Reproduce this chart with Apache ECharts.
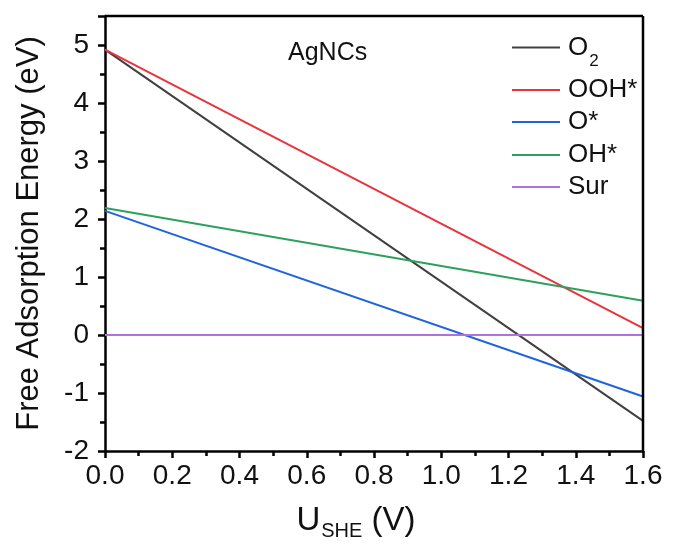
<!DOCTYPE html>
<html><head><meta charset="utf-8">
<script src="https://cdn.jsdelivr.net/npm/echarts@6/dist/echarts.min.js"></script>
<style>html,body{margin:0;padding:0;background:#fff}#c{width:673px;height:545px}</style>
</head><body><div id="c"></div>
<script>
const xValues = [0, 1.6];
const seriesNames = ['O2', 'OOH*', 'O*', 'OH*', 'Sur'];
const o2 = [4.92, -1.48];
const ooh = [4.92, 0.12];
const oStar = [2.14, -1.06];
const ohStar = [2.19, 0.59];
const sur = [0, 0];
const colors = ['#404040', '#e8343c', '#1e64dc', '#2ea05e', '#b070e0'];
const allValues = [o2, ooh, oStar, ohStar, sur];
const legendTops = [25, 77, 109, 142, 174];

const font = 'Liberation Sans, Arial, sans-serif';
const chart = echarts.init(document.getElementById('c'));
chart.setOption({
  animation: false,
  grid: {left: 105, right: 30, top: 16, bottom: 94, show: false, containLabel: false, outerBoundsMode: 'none'},
  title: {text: 'AgNCs', left: 288, top: 41, padding: 0, textStyle: {fontFamily: font, fontSize: 25, fontWeight: 'normal', color: '#111'}},
  legend: seriesNames.map((n, i) => ({
    orient: 'vertical', left: 512, top: legendTops[i], padding: 0, itemWidth: 48, itemHeight: 12,
    icon: 'path://M0,5 L48,5 L48,7 L0,7 Z',
    data: [n],
    formatter: function (nm) { return nm === 'O2' ? '{a|O}{s|2}' : '{a|' + nm + '}'; },
    textStyle: {fontFamily: font, fontSize: 26, color: '#111', padding: [0,0,0,3],
      rich: {a: {fontFamily: font, fontSize: 26, lineHeight: 28, color: '#111'},
             s: {fontFamily: font, fontSize: 17, lineHeight: 28, color: '#111', padding: [28,0,0,1]}}}
  })),
  xAxis: {
    type: 'value', min: 0, max: 1.6, interval: 0.2,
    name: '{a|U}{s|SHE}{a| (V)}', nameLocation: 'middle', nameGap: 50,
    nameTextStyle: {padding: [0, 36, 0, 0], rich: {a: {fontFamily: font, fontSize: 33, color: '#111'}, s: {fontFamily: font, fontSize: 20, color: '#111', padding: [20,0,0,1]}}},
    axisLine: {show: true, onZero: false, lineStyle: {color: '#000', width: 2.5}},
    axisTick: {show: true, length: 7, lineStyle: {color: '#000', width: 2.5}},
    minorTick: {show: true, splitNumber: 2, length: 5, lineStyle: {color: '#000', width: 2.5}},
    axisLabel: {fontFamily: font, fontSize: 28, color: '#111', margin: 11, formatter: v => v.toFixed(1)},
    splitLine: {show: false}
  },
  yAxis: {
    type: 'value', min: -2, max: 5.5, interval: 1,
    name: 'Free Adsorption Energy (eV)', nameLocation: 'middle', nameGap: 60,
    nameTextStyle: {fontFamily: font, fontSize: 31, color: '#111'},
    axisLine: {show: true, onZero: false, lineStyle: {color: '#000', width: 2.5}},
    axisTick: {show: true, length: 7, lineStyle: {color: '#000', width: 2.5}},
    minorTick: {show: true, splitNumber: 2, length: 5, lineStyle: {color: '#000', width: 2.5}},
    axisLabel: {fontFamily: font, fontSize: 28, color: '#111', margin: 16, showMaxLabel: false,
      formatter: v => (Math.abs(v - Math.round(v)) < 1e-9 ? String(Math.round(v)) : '')},
    splitLine: {show: false}
  },
  series: seriesNames.map((n, i) => ({
    name: n, type: 'line', symbol: 'none', color: colors[i],
    itemStyle: {color: colors[i]},
    lineStyle: {width: 2, color: colors[i]},
    data: xValues.map((x, j) => [x, allValues[i][j]]),
    z: 2
  }))
});
const p0 = chart.convertToPixel({gridIndex: 0}, [0, 5.5]);
const p1 = chart.convertToPixel({gridIndex: 0}, [1.6, -2]);
chart.setOption({graphic: [
  {type: 'line', shape: {x1: p0[0], y1: p0[1], x2: p1[0], y2: p0[1]}, style: {stroke: '#000', lineWidth: 2.5}, z: 10},
  {type: 'line', shape: {x1: p1[0], y1: p0[1], x2: p1[0], y2: p1[1]}, style: {stroke: '#000', lineWidth: 2.5}, z: 10}
]});
</script></body></html>
